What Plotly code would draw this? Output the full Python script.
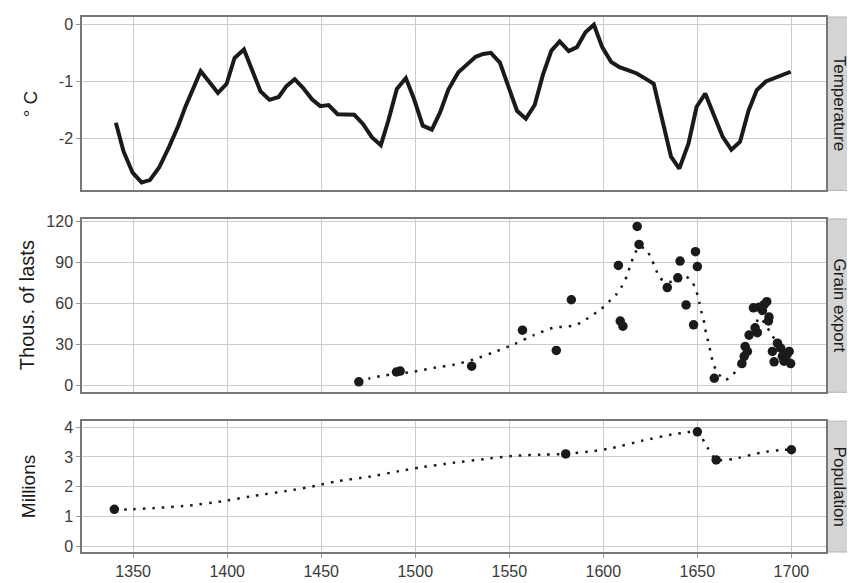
import plotly.graph_objects as go

# ---------------- data ----------------
temp_years = [1340.8, 1344.9, 1349.7, 1354.5, 1358.9, 1363.8, 1369.1, 1373.9, 1377.9, 1381.5,
              1385.9, 1390.3, 1395.1, 1399.7, 1403.9, 1408.9, 1413.3, 1417.7, 1422.5, 1427.4,
              1431.5, 1435.9, 1440.3, 1445.1, 1449.5, 1453.9, 1458.7, 1463.2, 1467.6, 1472.2,
              1476.9, 1481.7, 1485.7, 1490.2, 1495.0, 1499.4, 1504.0, 1508.8, 1513.2, 1517.6,
              1522.9, 1527.3, 1532.1, 1536.1, 1540.2, 1545.0, 1549.4, 1554.1, 1558.8, 1563.5,
              1567.9, 1572.4, 1576.8, 1581.6, 1586.0, 1590.5, 1595.0, 1599.4, 1604.2, 1608.6,
              1613.0, 1617.8, 1622.4, 1626.8, 1631.2, 1636.0, 1640.4, 1645.3, 1649.6, 1654.2,
              1658.6, 1663.4, 1668.1, 1672.7, 1677.2, 1681.6, 1686.4, 1690.8, 1695.2, 1699.6]
temp_vals = [-1.72, -2.22, -2.59, -2.76, -2.72, -2.50, -2.14, -1.78, -1.43, -1.14,
             -0.82, -1.00, -1.20, -1.04, -0.59, -0.44, -0.80, -1.17, -1.32, -1.27,
             -1.08, -0.96, -1.11, -1.31, -1.43, -1.41, -1.57, -1.57, -1.58, -1.74,
             -1.97, -2.11, -1.68, -1.13, -0.94, -1.31, -1.77, -1.84, -1.54, -1.14,
             -0.84, -0.71, -0.57, -0.52, -0.50, -0.67, -1.08, -1.51, -1.65, -1.41,
             -0.88, -0.46, -0.30, -0.47, -0.40, -0.14, -0.01, -0.40, -0.66, -0.75,
             -0.80, -0.86, -0.95, -1.04, -1.65, -2.31, -2.52, -2.08, -1.44, -1.21,
             -1.57, -1.96, -2.19, -2.05, -1.51, -1.15, -1.00, -0.94, -0.88, -0.83]

grain_years = [1470, 1490, 1492, 1530, 1557, 1575, 1583, 1608, 1609, 1610.4,
               1618, 1619, 1634, 1639.6, 1640.8, 1644, 1648, 1649, 1650, 1659,
               1673.7, 1674.9, 1675.4, 1676.6, 1677.5, 1679.8, 1680.7, 1681.9, 1682.8, 1684.6,
               1685.5, 1686.9, 1688.1, 1687.8, 1689.9, 1690.8, 1692.6, 1694.3, 1695.2, 1696.1,
               1697.0, 1697.8, 1698.8, 1699.6]
grain_vals = [2.4, 9.6, 10.3, 13.9, 40.3, 25.4, 62.6, 87.8, 47.0, 43.2,
              116.4, 103.2, 71.5, 78.7, 91.0, 58.8, 44.2, 97.9, 86.9, 5.0,
              15.8, 21.1, 28.3, 24.7, 36.7, 56.7, 42.0, 38.4, 57.1, 54.7,
              59.0, 61.2, 49.9, 47.0, 24.7, 17.1, 30.7, 27.1, 21.1, 17.5,
              19.9, 23.0, 24.7, 15.8]

grain_smooth_years = [1470, 1476, 1482, 1490, 1499, 1510, 1521, 1532, 1542, 1553,
                      1563, 1574, 1579, 1585, 1590, 1594, 1599, 1603, 1607, 1610,
                      1612.5, 1614.3, 1616.2, 1619, 1622.8, 1625.4, 1627.7, 1629.8, 1634, 1638.6,
                      1643.8, 1647.5, 1649.6, 1651, 1652.3, 1653.7, 1654.6, 1656, 1657.2, 1658.4,
                      1660.7, 1664.8, 1669.2, 1675, 1680, 1683, 1686, 1689.4, 1694, 1700]
grain_smooth_vals = [2.5, 5.0, 6.7, 8.3, 9.8, 12.7, 15.1, 19.2, 24.2, 30.2,
                     36.7, 42.3, 42.7, 43.9, 47.5, 51.1, 55.9, 61.2, 66.7, 72.7,
                     79.9, 87.6, 94.8, 101.5, 99.6, 93.1, 85.9, 78.7, 75.6, 76.3,
                     79.9, 75.1, 68.4, 60.7, 52.8, 45.6, 37.9, 30.7, 23.0, 15.8,
                     9.1, 3.6, 7.9, 24.0, 42.0, 49.5, 45.0, 37.2, 28.0, 20.0]

pop_years = [1340, 1580, 1650, 1660, 1700]
pop_vals = [1.24, 3.10, 3.84, 2.90, 3.24]

pop_smooth_years = [1340, 1347, 1363, 1380, 1397, 1415, 1433, 1447, 1458, 1475,
                    1492, 1502, 1520, 1537, 1553, 1569, 1580, 1594, 1605, 1621,
                    1637, 1643, 1650, 1655.5, 1660, 1669, 1685, 1696, 1700]
pop_smooth_vals = [1.24, 1.24, 1.29, 1.37, 1.51, 1.70, 1.87, 2.03, 2.18, 2.33,
                   2.53, 2.64, 2.80, 2.93, 3.04, 3.08, 3.10, 3.19, 3.30, 3.55,
                   3.76, 3.81, 3.85, 3.30, 2.90, 2.93, 3.16, 3.24, 3.24]

x_ticks = [1350, 1400, 1450, 1500, 1550, 1600, 1650, 1700]
temp_ticks = [-2, -1, 0]
temp_tick_labels = ["-2", "-1", "0"]
grain_ticks = [0, 30, 60, 90, 120]
pop_ticks = [0, 1, 2, 3, 4]
strip_labels = ["Temperature", "Grain export", "Population"]
y_titles = ["° C", "Thous. of lasts", "Millions"]

# ---------------- styling ----------------
FONT = "Liberation Sans, Arial, Helvetica, sans-serif"
INK = "#1a1a1a"
TICK_INK = "#3a3a3a"
GRID = "#cccccc"
BORDER = "#777777"
dot_dash = "2.5px,7px"

W, H = 847, 575
ML, MR, MT, MB = 73.5, 28.5, 3, 27
PW = W - ML - MR

domains = [[0.6758, 1.0], [0.2985, 0.6226], [0.0, 0.2446]]
yranges = [[-2.9, 0.125], [-5.3, 121.9], [-0.19, 4.2]]
yticks = [temp_ticks, grain_ticks, pop_ticks]
yticktext = [temp_tick_labels, [str(v) for v in grain_ticks], [str(v) for v in pop_ticks]]
xrange_ = [1322.8, 1718.4]
title_x_px = [22, 18, 20]
title_sizes = [19, 20, 19]

fig = go.Figure()

fig.add_trace(go.Scatter(x=temp_years, y=temp_vals, mode="lines",
                         line=dict(color=INK, width=4), xaxis="x", yaxis="y",
                         showlegend=False))

fig.add_trace(go.Scatter(x=grain_smooth_years, y=grain_smooth_vals, mode="lines",
                         line=dict(color=INK, width=2.5, dash=dot_dash, shape="spline",
                                   smoothing=0.5),
                         xaxis="x2", yaxis="y2", showlegend=False))
fig.add_trace(go.Scatter(x=grain_years, y=grain_vals, mode="markers",
                         marker=dict(color=INK, size=9.5), xaxis="x2", yaxis="y2",
                         showlegend=False))

fig.add_trace(go.Scatter(x=pop_smooth_years, y=pop_smooth_vals, mode="lines",
                         line=dict(color=INK, width=2.5, dash=dot_dash, shape="spline",
                                   smoothing=0.5),
                         xaxis="x3", yaxis="y3", showlegend=False))
fig.add_trace(go.Scatter(x=pop_years, y=pop_vals, mode="markers",
                         marker=dict(color=INK, size=9.5), xaxis="x3", yaxis="y3",
                         showlegend=False))

layout = dict(
    width=W, height=H,
    margin=dict(l=ML, r=MR, t=MT, b=MB),
    paper_bgcolor="white", plot_bgcolor="white",
    font=dict(family=FONT, color=INK),
    showlegend=False,
)

for i in range(3):
    xs = "" if i == 0 else str(i + 1)
    bottom = (i == 2)
    layout["xaxis" + xs] = dict(
        domain=[0, 1], anchor="y" + xs, range=xrange_, tickvals=x_ticks,
        showticklabels=bottom, ticks="outside" if bottom else "", ticklen=4,
        tickcolor="#999999", showgrid=True, gridcolor=GRID, gridwidth=1,
        zeroline=False, showline=True, mirror=True, linecolor=BORDER, linewidth=1.5,
        tickfont=dict(size=16, color=TICK_INK, family=FONT),
    )
    layout["yaxis" + xs] = dict(
        domain=domains[i], anchor="x" + xs, range=yranges[i], tickvals=yticks[i],
        ticktext=yticktext[i],
        ticks="outside", ticklen=4, tickcolor="#999999",
        showgrid=True, gridcolor=GRID, gridwidth=1, zeroline=False,
        showline=True, mirror=True, linecolor=BORDER, linewidth=1.5,
        tickfont=dict(size=16, color=TICK_INK, family=FONT),
    )

shapes = []
annotations = []
strip_w = 26 / PW
for i in range(3):
    d = domains[i]
    shapes.append(dict(type="rect", xref="paper", yref="paper",
                       x0=1.001, x1=1.0 + strip_w, y0=d[0], y1=d[1],
                       fillcolor="#d4d4d4", line=dict(color="#b3b3b3", width=1),
                       layer="below"))
    annotations.append(dict(xref="paper", yref="paper", x=1.0 + strip_w / 2,
                            y=(d[0] + d[1]) / 2, text=strip_labels[i], textangle=90,
                            showarrow=False, xanchor="center", yanchor="middle",
                            font=dict(size=17, color=INK, family=FONT)))
    annotations.append(dict(xref="paper", yref="paper", x=(title_x_px[i] - ML) / PW,
                            y=(d[0] + d[1]) / 2, text=y_titles[i], textangle=-90,
                            showarrow=False, xanchor="center", yanchor="middle",
                            font=dict(size=title_sizes[i], color=INK, family=FONT)))

layout["shapes"] = shapes
layout["annotations"] = annotations
fig.update_layout(**layout)

fig.write_html("out.html")
